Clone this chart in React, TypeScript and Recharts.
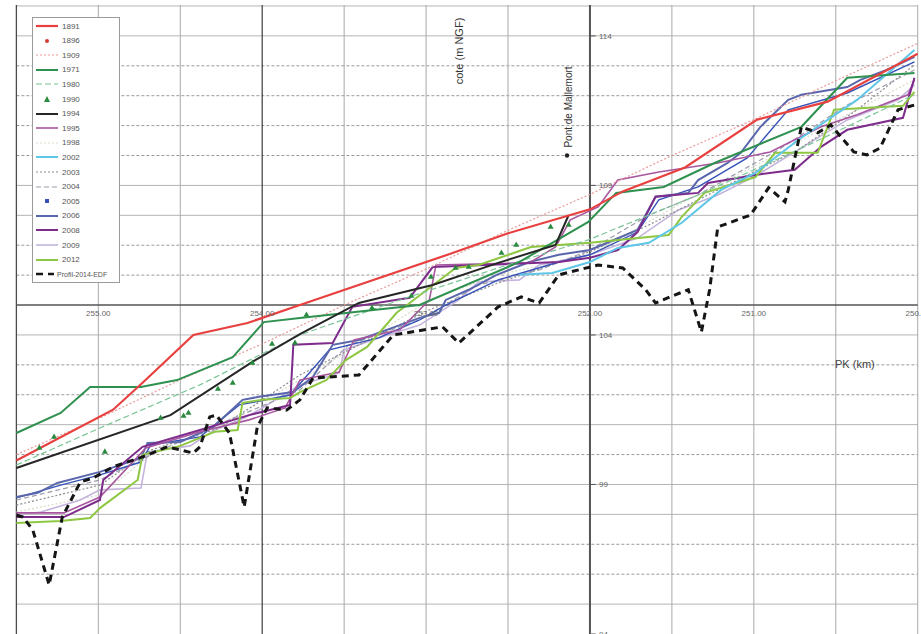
import React from "react";
import {
  ComposedChart,
  Line,
  Scatter,
  XAxis,
  YAxis,
  ZAxis,
  ReferenceLine,
  ReferenceDot,
} from "recharts";

type P = [number, number];

// [PK (km), cote (m NGF)]
const s1891: P[] = [
  [255.5, 99.8], [254.91, 101.5], [254.73, 102.4], [254.42, 104.0], [254.09, 104.4],
  [253.77, 105.0], [252.86, 106.7], [252.5, 107.4], [252.0, 108.2], [251.8, 108.8],
  [251.42, 109.6], [250.98, 111.2], [250.55, 111.8], [250.0, 113.4],
];
const s1909: P[] = [
  [255.5, 100.0], [255.0, 101.2], [254.5, 102.5], [254.0, 103.7], [253.5, 105.0],
  [253.0, 106.2], [252.5, 107.5], [252.0, 108.7], [251.5, 110.0], [251.0, 111.2],
  [250.5, 112.5], [250.0, 113.75],
];
const s1971: P[] = [
  [255.5, 100.72], [255.23, 101.39], [255.05, 102.26], [254.74, 102.26], [254.52, 102.49],
  [254.18, 103.26], [253.99, 104.43], [253.77, 104.57], [253.04, 105.0], [252.43, 106.44],
  [252.01, 107.78], [251.84, 108.75], [251.55, 108.95], [251.24, 109.75], [250.71, 110.96],
  [250.43, 112.6], [250.02, 112.76],
];
const s1980: P[] = [
  [255.5, 99.65], [254.99, 100.89], [254.38, 102.33], [253.77, 104.0], [253.16, 105.17],
  [252.56, 106.24], [252.01, 107.18], [251.34, 108.68], [250.73, 110.19], [250.02, 112.03],
];
const s1990: P[] = [
  [255.36, 100.22], [255.27, 100.59], [254.96, 100.09], [254.62, 101.22], [254.48, 101.29],
  [254.45, 101.39], [254.27, 102.19], [254.18, 102.39], [254.06, 103.06], [253.94, 103.7],
  [253.8, 103.73], [253.73, 104.67], [253.33, 104.9], [253.09, 105.3], [252.97, 105.94],
  [252.82, 106.24], [252.74, 106.27], [252.54, 106.74], [252.45, 107.01], [252.24, 107.61],
  [252.13, 107.68],
];
const s1994: P[] = [
  [255.5, 99.55], [254.56, 101.32], [254.06, 103.1], [253.77, 104.03], [253.41, 105.07],
  [252.96, 105.67], [252.56, 106.41], [252.21, 107.01], [252.13, 108.01],
];
const s1995: P[] = [
  [255.5, 98.05], [255.21, 98.05], [254.99, 98.58], [254.71, 100.22], [254.38, 100.76],
  [254.08, 101.16], [253.86, 101.56], [253.77, 102.49], [253.65, 102.63], [253.53, 102.76],
  [253.44, 103.83], [253.16, 104.17], [252.98, 105.17], [252.94, 106.34], [252.37, 106.41],
  [252.21, 106.94], [252.12, 107.85], [251.95, 108.28], [251.83, 109.18], [251.58, 109.45],
  [251.22, 109.75], [250.9, 110.12], [250.59, 110.96], [250.37, 111.36], [250.06, 112.03],
  [250.02, 112.53],
];
const s1998: P[] = [
  [255.5, 98.08], [254.99, 98.65], [254.68, 99.99], [254.26, 100.99], [253.77, 102.49],
  [253.41, 103.67], [252.98, 105.17], [252.56, 106.01], [252.0, 106.68], [251.46, 108.35],
  [250.98, 109.69], [250.43, 111.36], [250.02, 112.53],
];
const s2002: P[] = [
  [252.43, 106.01], [252.23, 106.07], [252.0, 106.44], [251.83, 106.91], [251.64, 107.08],
  [251.44, 107.75], [251.2, 108.85], [250.99, 109.42], [250.73, 110.52], [250.37, 111.86],
  [250.02, 113.53],
];
const s2003: P[] = [
  [255.5, 98.31], [254.99, 98.98], [254.68, 100.15], [254.26, 100.89], [253.77, 102.66],
  [253.47, 103.5], [252.98, 104.84], [252.56, 105.74], [252.0, 106.78], [251.64, 107.68],
  [251.22, 108.85], [250.73, 110.19], [250.37, 111.53], [250.02, 113.03],
];
const s2004: P[] = [
  [255.5, 98.48], [254.99, 99.15], [254.62, 100.15], [254.2, 101.16], [253.77, 102.16],
  [253.47, 103.67], [253.04, 104.5], [252.68, 105.67], [252.31, 106.17], [252.0, 106.84],
  [251.64, 108.01], [251.34, 108.68], [250.85, 110.19], [250.43, 111.69], [250.02, 112.86],
];
const s2005: P[] = [
  [255.5, 98.55], [255.23, 98.98], [254.99, 99.32], [254.74, 99.75], [254.68, 100.32],
  [254.38, 100.59], [254.14, 101.66], [253.83, 101.99], [253.59, 103.5], [253.29, 103.9],
  [253.04, 104.5], [252.88, 105.0], [252.56, 105.84], [252.19, 106.44], [252.0, 106.68],
  [251.71, 107.44], [251.58, 108.52], [251.34, 108.95], [251.04, 109.92], [250.79, 111.53],
  [250.43, 112.09], [250.02, 113.13],
];
const s2006: P[] = [
  [255.5, 98.58], [255.37, 98.72], [255.25, 99.05], [254.99, 99.42], [254.74, 99.89],
  [254.7, 100.39], [254.5, 100.42], [254.3, 100.92], [254.12, 101.83], [254.02, 101.93],
  [253.81, 102.09], [253.69, 102.6], [253.57, 103.67], [253.41, 103.83], [253.16, 104.33],
  [253.04, 104.57], [252.92, 104.74], [252.88, 105.17], [252.74, 105.51], [252.57, 106.01],
  [252.37, 106.44], [252.19, 106.68], [252.0, 106.84], [251.71, 107.51], [251.6, 108.62],
  [251.4, 108.75], [251.34, 109.18], [251.16, 109.75], [251.08, 110.09], [250.96, 110.96],
  [250.79, 111.86], [250.71, 112.03], [250.43, 112.29], [250.35, 112.53], [250.19, 112.86],
  [250.02, 113.3],
];
const s2008: P[] = [
  [255.5, 97.91], [255.21, 97.91], [254.99, 98.48], [254.97, 99.15], [254.73, 100.26],
  [254.38, 100.82], [254.08, 101.32], [253.83, 101.66], [253.81, 103.67], [253.57, 103.73],
  [253.45, 104.94], [253.1, 105.24], [252.96, 106.27], [252.64, 106.34], [252.19, 106.44],
  [252.0, 106.58], [251.83, 106.84], [251.71, 107.44], [251.6, 108.62], [251.34, 108.75],
  [251.28, 109.08], [250.99, 109.35], [250.75, 109.52], [250.59, 110.29], [250.43, 110.86],
  [250.09, 111.26], [250.02, 112.6],
];
const s2009: P[] = [
  [255.5, 97.98], [255.35, 98.08], [255.11, 98.48], [254.99, 98.82], [254.74, 98.88],
  [254.7, 100.09], [254.44, 100.29], [254.29, 100.82], [254.11, 101.22], [254.02, 101.49],
  [253.77, 102.33], [253.53, 102.73], [253.5, 103.5], [253.29, 103.9], [253.04, 104.33],
  [252.8, 105.17], [252.68, 105.77], [252.43, 105.84], [252.31, 106.34], [252.0, 106.68],
  [251.71, 107.24], [251.46, 108.18], [251.22, 108.68], [250.98, 109.35], [250.73, 110.19],
  [250.43, 111.19], [250.12, 111.86], [250.02, 112.36],
];
const s2012: P[] = [
  [255.5, 97.71], [255.23, 97.78], [255.05, 97.88], [254.99, 98.21], [254.76, 99.15],
  [254.73, 99.99], [254.5, 100.29], [254.29, 100.76], [254.15, 100.82], [254.12, 101.73],
  [254.0, 101.83], [253.83, 101.89], [253.77, 102.09], [253.61, 102.49], [253.49, 103.16],
  [253.36, 103.6], [253.18, 104.74], [253.1, 105.07], [252.82, 106.24], [252.68, 106.34],
  [252.36, 106.94], [252.0, 107.08], [251.52, 107.34], [251.44, 107.95], [251.3, 108.75],
  [250.99, 109.28], [250.87, 110.09], [250.61, 110.09], [250.51, 111.53], [250.09, 111.66],
  [250.02, 112.13],
];
const profil2014: P[] = [
  [255.5, 97.98], [255.46, 97.91], [255.4, 97.48], [255.3, 95.64], [255.22, 97.91],
  [255.11, 99.08], [255.03, 99.22], [254.91, 99.59], [254.73, 99.92], [254.58, 100.26],
  [254.42, 100.05], [254.38, 100.26], [254.32, 101.26], [254.28, 101.32], [254.2, 100.72],
  [254.11, 98.25], [254.03, 100.92], [253.97, 101.56], [253.85, 101.49], [253.77, 101.83],
  [253.69, 102.56], [253.41, 102.66], [253.2, 104.0], [252.9, 104.27], [252.8, 103.73],
  [252.56, 104.94], [252.42, 105.27], [252.31, 105.07], [252.19, 106.01], [251.95, 106.34],
  [251.8, 106.24], [251.66, 105.51], [251.6, 105.07], [251.48, 105.34], [251.4, 105.51],
  [251.32, 104.1], [251.27, 105.51], [251.22, 107.61], [251.02, 108.01], [250.91, 108.92],
  [250.81, 108.45], [250.79, 108.85], [250.71, 110.96], [250.61, 110.76], [250.53, 111.02],
  [250.39, 110.12], [250.31, 110.02], [250.23, 110.25], [250.12, 111.53], [250.02, 111.69],
];

const PONT_MALLEMORT: P = [252.14, 110.0];

const X_TICKS = [255, 254, 253, 252, 251, 250];
const X_TICK_LABELS = ["255.00", "254.00", "253.00", "252.00", "251.00", "250.00"];
const Y_TICKS = [114, 109, 104, 99, 94];
const H_GRID = [115, 114, 113, 112, 111, 110, 109, 108, 107, 106, 104, 103, 102, 101, 100, 99, 98, 97, 96, 95];
const H_SOLID = [115, 114, 109, 108, 104, 101, 99, 98, 95];
const V_GRID = [255.5, 255, 254.5, 254, 253.5, 253, 252.5, 251.5, 251, 250.5, 250];
const V_DARK = [255.5, 254];

type Style = { color: string; width: number; dash?: string; marker?: "dot" | "tri" | "square" };
const STYLES: Record<string, Style> = {
  "1891": { color: "#e8403f", width: 2.2 },
  "1896": { color: "#d43a2f", width: 0, marker: "dot" },
  "1909": { color: "#e99a9a", width: 1.2, dash: "2 2" },
  "1971": { color: "#2f9150", width: 2 },
  "1980": { color: "#79c495", width: 1.2, dash: "6 3" },
  "1990": { color: "#2a8a40", width: 0, marker: "tri" },
  "1994": { color: "#262626", width: 2 },
  "1995": { color: "#a8569f", width: 1.6 },
  "1998": { color: "#d9dccb", width: 1.2, dash: "2 2" },
  "2002": { color: "#5ec6e6", width: 2 },
  "2003": { color: "#8c8c8c", width: 1.2, dash: "2 2" },
  "2004": { color: "#9c9cab", width: 1.2, dash: "5 3" },
  "2005": { color: "#3552b8", width: 1.4, marker: "square" },
  "2006": { color: "#5a67ac", width: 2 },
  "2008": { color: "#7e2c8c", width: 2 },
  "2009": { color: "#c4b4dd", width: 1.6 },
  "2012": { color: "#8ec742", width: 2 },
  "Profil-2014-EDF": { color: "#151515", width: 3, dash: "7 5" },
};
const LEGEND_NAMES = [
  "1891", "1896", "1909", "1971", "1980", "1990", "1994", "1995", "1998",
  "2002", "2003", "2004", "2005", "2006", "2008", "2009", "2012", "Profil-2014-EDF",
];

const LINES: [string, P[]][] = [
  ["1998", s1998], ["2009", s2009], ["2003", s2003], ["2004", s2004], ["2005", s2005],
  ["2006", s2006], ["1995", s1995], ["2008", s2008], ["2012", s2012], ["2002", s2002],
  ["1980", s1980], ["1909", s1909], ["1971", s1971], ["1994", s1994], ["1891", s1891],
  ["Profil-2014-EDF", profil2014],
];

const toPts = (a: P[]) => a.map(([pk, z]) => ({ pk, z }));
const FONT = "'Liberation Sans', Arial, sans-serif";

function LegendBox() {
  return (
    <div
      style={{
        position: "absolute",
        left: 32,
        top: 17,
        width: 88,
        height: 266,
        background: "#fff",
        border: "1px solid #9a9a9a",
        boxSizing: "border-box",
        fontFamily: FONT,
        fontSize: 8,
        color: "#555",
      }}
    >
      {LEGEND_NAMES.map((n, i) => {
        const s = STYLES[n];
        const last = n.length > 4;
        return (
          <div
            key={n}
            style={{
              position: "absolute",
              left: 2,
              top: 1 + i * 14.6,
              height: 14,
              display: "flex",
              alignItems: "center",
              whiteSpace: "nowrap",
            }}
          >
            <svg width={last ? 20 : 24} height={10} style={{ marginRight: last ? 2 : 3 }}>
              {s.width > 0 && s.marker !== "square" && (
                <line
                  x1={1}
                  y1={5}
                  x2={last ? 19 : 23}
                  y2={5}
                  stroke={s.color}
                  strokeWidth={Math.min(s.width, 2.5)}
                  strokeDasharray={s.dash}
                />
              )}
              {s.marker === "dot" && <circle cx={12} cy={5} r={2} fill={s.color} />}
              {s.marker === "tri" && <polygon points="12,2 15,8 9,8" fill={s.color} />}
              {s.marker === "square" && <rect x={10} y={3} width={4} height={4} fill={s.color} />}
            </svg>
            <span style={{ fontSize: last ? 7 : 8 }}>{n}</span>
          </div>
        );
      })}
    </div>
  );
}

export default function App() {
  return (
    <div style={{ position: "absolute", left: 0, top: 0, width: 921, height: 634, background: "#fff", fontFamily: FONT }}>
      <ComposedChart width={921} height={634} margin={{ top: 0, right: 0, bottom: 0, left: 0 }}>
        <XAxis type="number" dataKey="pk" domain={[249.98, 255.6]} reversed hide allowDataOverflow />
        <YAxis type="number" dataKey="z" domain={[94.0, 115.2]} hide allowDataOverflow />
        <ZAxis range={[16, 16]} />

        {H_GRID.map((v) => (
          <ReferenceLine
            key={"h" + v}
            segment={[{ x: 255.5, y: v }, { x: 250, y: v }]}
            stroke={H_SOLID.includes(v) ? "#b4b4b4" : "#9a9a9a"}
            strokeDasharray={H_SOLID.includes(v) ? undefined : "3 2"}
            strokeWidth={1}
          />
        ))}
        {V_GRID.map((v) => (
          <ReferenceLine
            key={"v" + v}
            segment={[{ x: v, y: 115.03 }, { x: v, y: 94.0 }]}
            stroke={V_DARK.includes(v) ? "#4a4a4a" : "#a8a8a8"}
            strokeWidth={V_DARK.includes(v) ? 1.3 : 1}
          />
        ))}
        <ReferenceLine segment={[{ x: 255.5, y: 105 }, { x: 250, y: 105 }]} stroke="#555" strokeWidth={1.5} />
        <ReferenceLine segment={[{ x: 252, y: 115.03 }, { x: 252, y: 94.0 }]} stroke="#555" strokeWidth={2} />

        {X_TICKS.map((v, i) => (
          <ReferenceDot
            key={"xt" + v}
            x={v}
            y={105}
            r={1}
            fill="none"
            stroke="none"
            label={{ value: X_TICK_LABELS[i], position: "bottom", offset: 4, fontSize: 8, fill: "#666" }}
          />
        ))}
        {Y_TICKS.map((v) => (
          <ReferenceLine key={"yt" + v} segment={[{ x: 252, y: v }, { x: 251.965, y: v }]} stroke="#555" />
        ))}
        {Y_TICKS.map((v) => (
          <ReferenceDot
            key={"yl" + v}
            x={252}
            y={v}
            r={1}
            fill="none"
            stroke="none"
            label={{ value: String(v), position: "right", offset: 8, fontSize: 8, fill: "#666" }}
          />
        ))}

        {LINES.map(([name, pts]) => {
          const s = STYLES[name];
          return (
            <Line
              key={name}
              data={toPts(pts)}
              dataKey="z"
              type="linear"
              stroke={s.color}
              strokeWidth={s.width}
              strokeDasharray={s.dash}
              dot={false}
              activeDot={false}
              isAnimationActive={false}
            />
          );
        })}
        <Scatter data={toPts(s1990)} dataKey="z" fill={STYLES["1990"].color} shape="triangle" isAnimationActive={false} />
        <ReferenceDot x={PONT_MALLEMORT[0]} y={PONT_MALLEMORT[1]} r={2.2} fill="#222" stroke="none" />
      </ComposedChart>

      <LegendBox />

      <div
        style={{
          position: "absolute",
          left: 459,
          top: 51,
          transform: "translate(-50%, -50%) rotate(-90deg)",
          whiteSpace: "nowrap",
          fontSize: 11,
          color: "#333",
        }}
      >
        cote (m NGF)
      </div>
      <div
        style={{
          position: "absolute",
          left: 568,
          top: 107,
          transform: "translate(-50%, -50%) rotate(-90deg)",
          whiteSpace: "nowrap",
          fontSize: 10,
          color: "#333",
        }}
      >
        Pont de Mallemort
      </div>
      <div style={{ position: "absolute", left: 835, top: 358, fontSize: 11, color: "#444", whiteSpace: "nowrap" }}>
        PK (km)
      </div>
    </div>
  );
}
